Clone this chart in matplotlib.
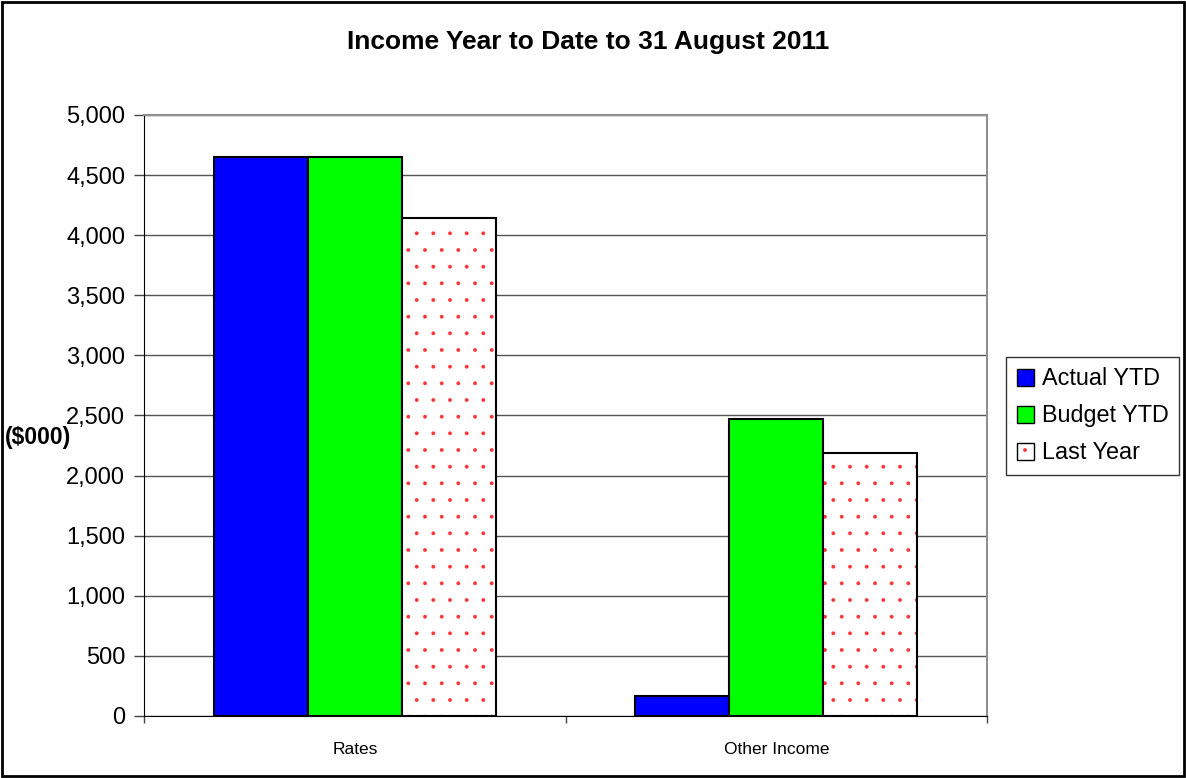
import matplotlib
matplotlib.use("Agg")
import matplotlib.pyplot as plt
from matplotlib.patches import Rectangle
import numpy as np

plt.rcParams['font.family'] = ['Liberation Sans', 'DejaVu Sans']
plt.rcParams['hatch.linewidth'] = 0.3

# data ($000)
categories = ['Rates', 'Other Income']
series_names = ['Actual YTD', 'Budget YTD', 'Last Year']
actual_ytd = [4652, 169]
budget_ytd = [4652, 2467]
last_year = [4139, 2186]
y_ticks = [0, 500, 1000, 1500, 2000, 2500, 3000, 3500, 4000, 4500, 5000]

fig = plt.figure(figsize=(11.86, 7.78), dpi=100)
ax = fig.add_axes([0.1218, 0.0797, 0.8322 - 0.1218, 0.8522 - 0.0797])

x = np.arange(len(categories))
w = 0.223

ax.bar(x - w, actual_ytd, w, color='#0000ff', edgecolor='black', linewidth=1.5, zorder=3)
ax.bar(x, budget_ytd, w, color='#00ff00', edgecolor='black', linewidth=1.5, zorder=3)
# dotted fill in red, then a black outline on top
ax.bar(x + w, last_year, w, color='white', edgecolor='#ff3030', hatch='.', linewidth=0, zorder=3)
ax.bar(x + w, last_year, w, fill=False, edgecolor='black', linewidth=1.5, zorder=4)

ax.set_xlim(-0.5, 1.5)
ax.set_ylim(0, 5000)
ax.set_yticks(y_ticks)
ax.set_yticklabels([f'{v:,}' for v in y_ticks], fontsize=17)
ax.yaxis.grid(True, color='#555555', linewidth=1.0, zorder=0)
ax.set_axisbelow(True)

ax.set_xticks(x)
ax.set_xticklabels(categories, fontsize=12.5)
ax.tick_params(axis='x', which='major', length=0, pad=19)
ax.set_xticks([-0.5, 0.5, 1.5], minor=True)
ax.tick_params(axis='x', which='minor', length=5, width=1, direction='out', color='#444444')
ax.tick_params(axis='y', length=7, width=1, direction='out', pad=7, color='#444444')

ax.spines['top'].set_color('#909090')
ax.spines['right'].set_color('#909090')
ax.spines['top'].set_linewidth(1.5)
ax.spines['right'].set_linewidth(1.5)
ax.spines['left'].set_color('black')
ax.spines['bottom'].set_color('black')

fig.text(0.496, 0.946, 'Income Year to Date to 31 August 2011', ha='center', va='center',
         fontsize=19, fontweight='bold')
fig.text(5 / 1186, 1 - 437 / 778, '($000)', ha='left', va='center', fontsize=16.5, fontweight='bold')

# legend
h1 = Rectangle((0, 0), 1, 1, facecolor='#0000ff', edgecolor='black', linewidth=1)
h2 = Rectangle((0, 0), 1, 1, facecolor='#00ff00', edgecolor='black', linewidth=1)
h3a = Rectangle((0, 0), 1, 1, facecolor='white', edgecolor='#ff3030', hatch='.', linewidth=0)
h3b = Rectangle((0, 0), 1, 1, fill=False, edgecolor='black', linewidth=1)
leg = fig.legend([h1, h2, (h3a, h3b)], series_names, loc='center left',
                 bbox_to_anchor=(1006 / 1186, 1 - 416 / 778), bbox_transform=fig.transFigure,
                 fontsize=16.8, frameon=True, fancybox=False, edgecolor='black',
                 handlelength=0.75, handleheight=0.75, handletextpad=0.35,
                 labelspacing=0.6, borderpad=0.45, borderaxespad=0)
leg.get_frame().set_linewidth(1.0)

# outer chart border
fig.patches.append(Rectangle((0.002, 0.002), 0.996, 0.996, transform=fig.transFigure,
                             fill=False, edgecolor='black', linewidth=2))

plt.savefig('out.png', dpi=100)
